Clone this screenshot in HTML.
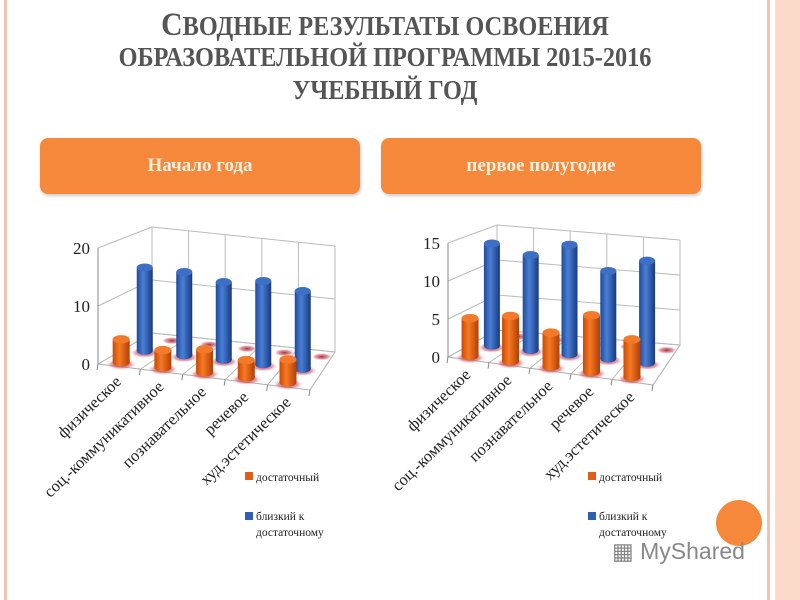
<!DOCTYPE html>
<html><head><meta charset="utf-8"><style>
body{margin:0;width:800px;height:600px;overflow:hidden;background:#fff;font-family:"Liberation Serif",serif;position:relative}
.t{position:absolute;left:0;width:770px;text-align:center;color:#555;font-family:"Liberation Serif",serif;white-space:nowrap;font-weight:bold;line-height:32px}
.btn{position:absolute;top:138px;height:56px;background:#f5883a;border-radius:8px;color:#fdf1e4;font-weight:bold;font-size:19px;text-align:center;line-height:56px;box-shadow:1px 2px 3px #ccc}
</style></head><body>
<div style="position:absolute;left:4px;top:0;width:3px;height:600px;background:#f3c2b0"></div>
<div style="position:absolute;left:767px;top:0;width:3px;height:600px;background:#f3c2b0"></div>
<div style="position:absolute;left:775px;top:0;width:25px;height:600px;background:#fbd9c8"></div>
<div class="t" style="top:9px;font-size:27px;transform:scaleX(0.9)"><span style="font-size:33px">С</span>ВОДНЫЕ РЕЗУЛЬТАТЫ ОСВОЕНИЯ</div>
<div class="t" style="top:41px;font-size:27px;transform:scaleX(0.9)">ОБРАЗОВАТЕЛЬНОЙ ПРОГРАММЫ 2015-2016</div>
<div class="t" style="top:74px;font-size:27px;transform:scaleX(0.9)">УЧЕБНЫЙ ГОД</div>
<div class="btn" style="left:40px;width:320px">Начало года</div>
<div class="btn" style="left:381px;width:320px">первое полугодие</div>
<svg id="s" width="800" height="600" style="position:absolute;left:0;top:0">
<defs>
<linearGradient id="gb" x1="0" x2="1"><stop offset="0" stop-color="#1f4a9a"/><stop offset="0.4" stop-color="#4a7fd6"/><stop offset="1" stop-color="#173a80"/></linearGradient>
<linearGradient id="go" x1="0" x2="1"><stop offset="0" stop-color="#c94a05"/><stop offset="0.4" stop-color="#f57a26"/><stop offset="1" stop-color="#b53e02"/></linearGradient>
<radialGradient id="sh"><stop offset="0" stop-color="#a0303a"/><stop offset="0.6" stop-color="#d06070" stop-opacity="0.6"/><stop offset="1" stop-color="#fff" stop-opacity="0"/></radialGradient>
</defs>
</svg>
<div style="position:absolute;left:716px;top:500px;width:46px;height:46px;border-radius:50%;background:#f5883a"></div>
<div style="position:absolute;left:612px;top:538px;font-family:'Liberation Sans',sans-serif;font-size:23px;color:#888">▦ MyShared</div>
<script>
const categories=["физическое","соц.-коммуникативное","познавательное","речевое","худ.эстетическое"];
const orange1=[4,3,4,3,4];
const blue1=[15,15,14,15,14];
const ticks1=[0,10,20];
const orange2=[5,6,4.5,7.5,5];
const blue2=[14,13,15,12,14];
const ticks2=[0,5,10,15];
const svg=document.getElementById('s');
const NS='http://www.w3.org/2000/svg';
function mk(t,a,txt){const e=document.createElementNS(NS,t);for(const k in a)e.setAttribute(k,a[k]);if(txt!=null)e.textContent=txt;svg.appendChild(e);return e;}
function chart(c,orange,blue,ticks,max,legX,nm){
 const P=(u,d,v)=>{const fx=c.fl[0]+(c.fr[0]-c.fl[0])*u, fy=c.fl[1]+(c.fr[1]-c.fl[1])*u;
  const bx=c.bl[0]+(c.br[0]-c.bl[0])*u, by=c.bl[1]+(c.br[1]-c.bl[1])*u;
  const k=c.k0+(c.k1-c.k0)*d;
  return [fx+(bx-fx)*d, fy+(by-fy)*d - v*k];};
 const line=(a,b,col)=>mk('line',{x1:a[0],y1:a[1],x2:b[0],y2:b[1],stroke:col||'#bbb','stroke-width':1});
 const f=[P(0,0,0),P(1,0,0),P(1,1,0),P(0,1,0)];
 const fl=mk('polygon',{points:f.map(p=>p.join(',')).join(' '),fill:'#fff',stroke:'#aaa'});
 
 ticks.forEach(t=>{line(P(0,0,t),P(0,1,t));line(P(0,1,t),P(1,1,t));
  const p=P(0,0,t);const tx=mk('text',{x:p[0]-8,y:p[1]+6,'text-anchor':'end','font-size':17,fill:'#222','font-family':'Liberation Serif,serif'},t);
  });
 line(P(0,0,0),P(0,0,max),'#888');line(P(0,1,0),P(0,1,max));
 for(let i=1;i<=5;i++){line(P(i/5,1,0),P(i/5,1,max));line(P(i/5,0,0),P(i/5,1,0));}
 for(let i=0;i<=5;i++){line(P(i/5,0,0),P(i/5,0,0).map((v,j)=>v+(j?6:-1)),'#888');}
 const cyl=(p,top,grad,w,name)=>{const g=document.createElementNS(NS,'g');svg.appendChild(g);
  
  const add=(t,a)=>{const e=document.createElementNS(NS,t);for(const k in a)e.setAttribute(k,a[k]);g.appendChild(e);};
  add('ellipse',{cx:p[0],cy:p[1]+2,rx:w*0.95,ry:w*0.35,fill:'url(#sh)'});
  add('rect',{x:p[0]-w/2,y:top,width:w,height:p[1]-top,fill:'url('+grad+')'});
  add('ellipse',{cx:p[0],cy:p[1],rx:w/2,ry:w*0.25,fill:'url('+grad+')'});
  add('ellipse',{cx:p[0],cy:top,rx:w/2,ry:w*0.25,fill:grad=='#gb'?'#3d6fc4':'#f27a2a'});};
 for(let i=0;i<5;i++){const p=P((i+0.75)/5,0.85,0);const e=mk('ellipse',{cx:p[0],cy:p[1],rx:11,ry:4,fill:'url(#sh)'});}
 blue.forEach((v,i)=>{const u=(i+0.5)/5;const b=P(u,0.5,0),t=P(u,0.5,v);cyl(b,t[1],'#gb',16,nm+'-blue-bar-'+(i+1));});
 orange.forEach((v,i)=>{const u=(i+0.4)/5;const b=P(u,0.12,0),t=P(u,0.12,v);cyl(b,t[1],'#go',17,nm+'-orange-bar-'+(i+1));});
 categories.forEach((s,i)=>{const p=P((i+0.5)/5,0,0);const x=p[0]+3,y=p[1]+16;
  const tx=mk('text',{x:x,y:y,'text-anchor':'end','font-size':16.5,fill:'#222',transform:`rotate(-44 ${x} ${y})`,'font-family':'Liberation Serif,serif'},s);
  });
 const l1=mk('rect',{x:legX,y:472,width:8,height:8,fill:'#e0601a'});
 const t1=mk('text',{x:legX+11,y:481,'font-size':11.5,fill:'#222'},'достаточный');
 const l2=mk('rect',{x:legX,y:512,width:8,height:8,fill:'#2f5fb0'});
 const t2=mk('text',{x:legX+11,y:520,'font-size':11.5,fill:'#222'},'близкий к');
 const t3=mk('text',{x:legX+11,y:536,'font-size':11.5,fill:'#222'},'достаточному');
}
chart({fl:[98,364],fr:[310,390],bl:[152,333],br:[335,352],k0:5.8,k1:5.3},orange1,blue1,ticks1,20,245,'chart1');
chart({fl:[448,357],fr:[653,385],bl:[497,330],br:[680,345],k0:7.6,k1:7.0},orange2,blue2,ticks2,15,588,'chart2');
</script>
</body></html>
